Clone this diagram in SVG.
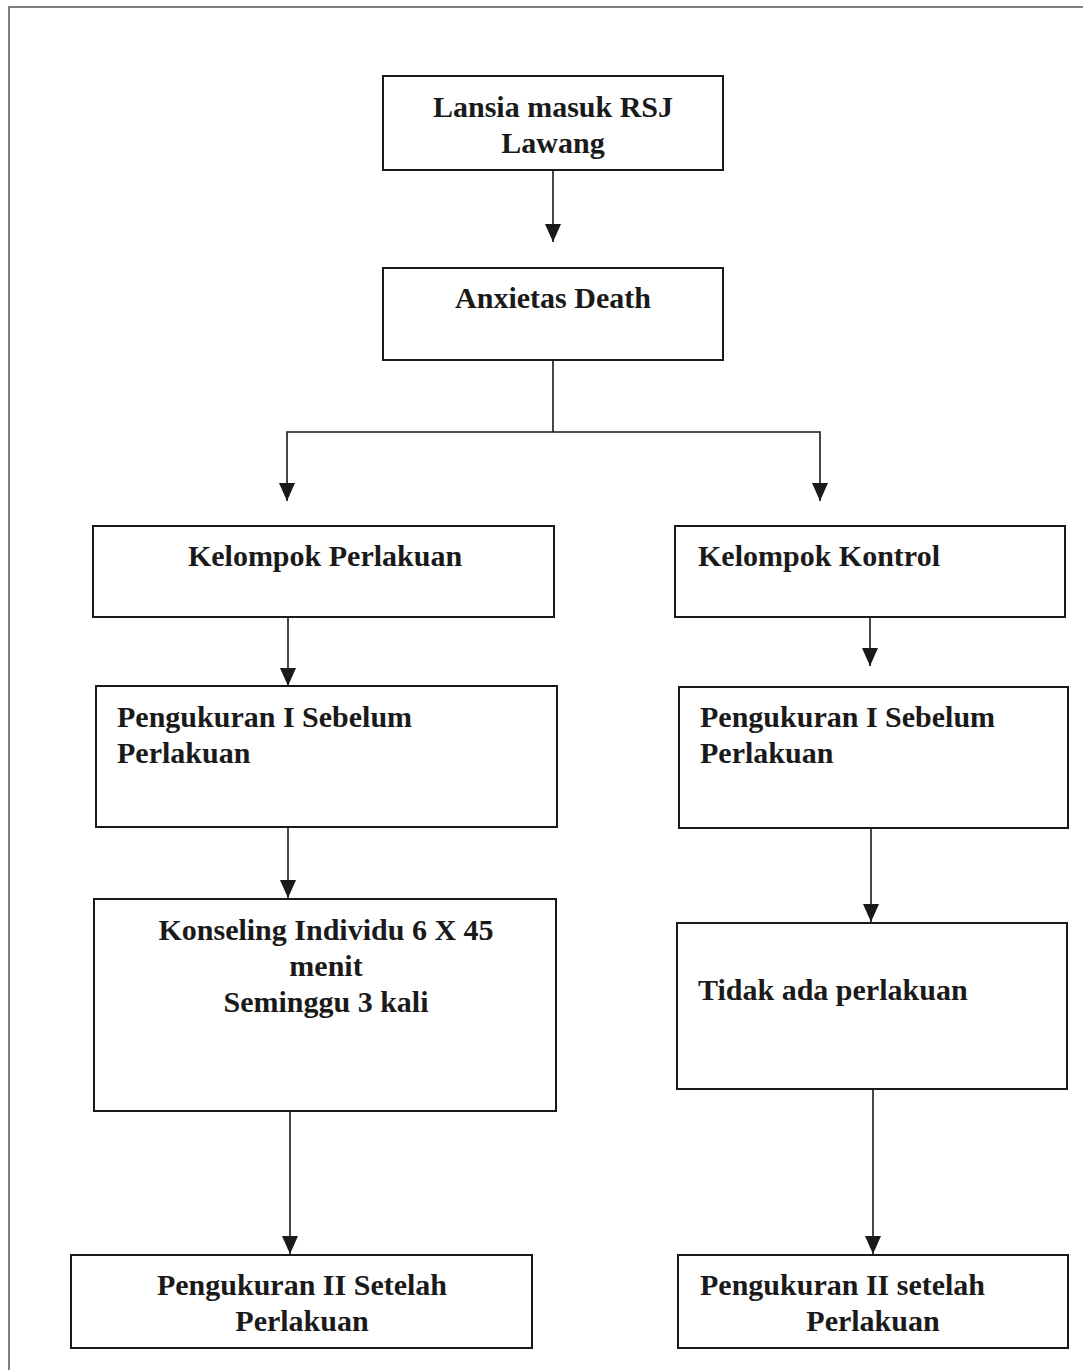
<svg xmlns="http://www.w3.org/2000/svg" width="1083" height="1370" viewBox="0 0 1083 1370">
<style>
.box{fill:#fff;stroke:#1a1a1a;stroke-width:2}
.t{font-family:"Liberation Serif","Times New Roman",serif;font-weight:bold;font-size:30px;fill:#1a1a1a}
.c{text-anchor:middle}
.ln{fill:none;stroke:#1a1a1a;stroke-width:1.6}
</style>
<defs>
<marker id="ah" markerUnits="userSpaceOnUse" markerWidth="18" markerHeight="22" refX="18" refY="8" orient="auto" viewBox="0 0 18 16">
<path d="M0,0 L18,8 L0,16 z" fill="#1a1a1a"/>
</marker>
</defs>
<rect width="1083" height="1370" fill="#fff"/>
<path d="M9,1370 V7 H1083" fill="none" stroke="#555" stroke-width="1.5"/>
<g id="connectors">
<path class="ln" d="M553,170 V242" marker-end="url(#ah)"/>
<path class="ln" d="M553,360 V432 H287 V501" marker-end="url(#ah)"/>
<path class="ln" d="M553,432 H820 V501" marker-end="url(#ah)"/>
<path class="ln" d="M288,617 V686" marker-end="url(#ah)"/>
<path class="ln" d="M870,617 V666" marker-end="url(#ah)"/>
<path class="ln" d="M288,827 V898" marker-end="url(#ah)"/>
<path class="ln" d="M871,828 V922" marker-end="url(#ah)"/>
<path class="ln" d="M290,1111 V1254" marker-end="url(#ah)"/>
<path class="ln" d="M873,1089 V1254" marker-end="url(#ah)"/>
</g>
<g id="n1"><rect class="box" x="383" y="76" width="340" height="94"/>
<text class="t c" x="553" y="117">Lansia masuk RSJ</text><text class="t c" x="553" y="153">Lawang</text></g>
<g id="n2"><rect class="box" x="383" y="268" width="340" height="92"/>
<text class="t c" x="553" y="308">Anxietas Death</text></g>
<g id="n3"><rect class="box" x="93" y="526" width="461" height="91"/>
<text class="t c" x="325" y="566">Kelompok Perlakuan</text></g>
<g id="n4"><rect class="box" x="675" y="526" width="390" height="91"/>
<text class="t" x="698" y="566">Kelompok Kontrol</text></g>
<g id="n5"><rect class="box" x="96" y="686" width="461" height="141"/>
<text class="t" x="117" y="727">Pengukuran I Sebelum</text><text class="t" x="117" y="763">Perlakuan</text></g>
<g id="n6"><rect class="box" x="679" y="687" width="389" height="141"/>
<text class="t" x="700" y="727">Pengukuran I Sebelum</text><text class="t" x="700" y="763">Perlakuan</text></g>
<g id="n7"><rect class="box" x="94" y="899" width="462" height="212"/>
<text class="t c" x="326" y="940">Konseling Individu 6 X 45</text><text class="t c" x="326" y="976">menit</text><text class="t c" x="326" y="1012">Seminggu 3 kali</text></g>
<g id="n8"><rect class="box" x="677" y="923" width="390" height="166"/>
<text class="t" x="698" y="1000">Tidak ada perlakuan</text></g>
<g id="n9"><rect class="box" x="71" y="1255" width="461" height="93"/>
<text class="t c" x="302" y="1295">Pengukuran II Setelah</text><text class="t c" x="302" y="1331">Perlakuan</text></g>
<g id="n10"><rect class="box" x="678" y="1255" width="390" height="93"/>
<text class="t" x="700" y="1295">Pengukuran II setelah</text><text class="t c" x="873" y="1331">Perlakuan</text></g>
</svg>
